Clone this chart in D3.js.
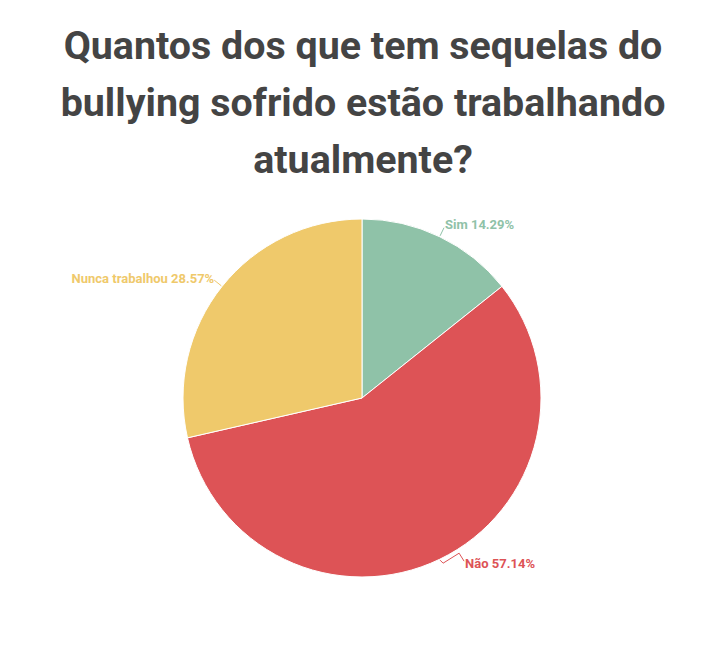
<!DOCTYPE html>
<html>
<head>
<meta charset="utf-8">
<script src="https://cdn.jsdelivr.net/npm/d3@7/dist/d3.min.js"></script>
<style>
html,body{margin:0;padding:0;background:#fff;}
</style>
</head>
<body>
<svg id="chart" width="726" height="668"></svg>
<script>
const titleLines = ["Quantos dos que tem sequelas do", "bullying sofrido estão trabalhando", "atualmente?"];
const categories = ["Sim", "Não", "Nunca trabalhou"];
const values = [1, 4, 2];
const percentLabels = ["14.29%", "57.14%", "28.57%"];
const colors = ["#8fc2a8", "#dd5356", "#efc96b"];

const svg = d3.select("#chart");
const W = 726, H = 668;
svg.append("rect").attr("width", W).attr("height", H).attr("fill", "#fff");

svg.append("g").selectAll("text").data(titleLines).join("text")
  .attr("x", W / 2)
  .attr("y", (d, i) => 59 + i * 57)
  .attr("text-anchor", "middle")
  .attr("font-family", "Roboto, sans-serif")
  .attr("font-weight", 700)
  .attr("font-size", 39.4)
  .attr("fill", "#444444")
  .text(d => d);

const cx = 362, cy = 398, R = 179;
const data = categories.map((c, i) => ({ cat: c, value: values[i], pct: percentLabels[i], color: colors[i] }));
const pie = d3.pie().value(d => d.value).sort(null);
const arcs = pie(data);
const arc = d3.arc().innerRadius(0).outerRadius(R);

const g = svg.append("g").attr("transform", `translate(${cx},${cy})`);
g.selectAll("path").data(arcs).join("path")
  .attr("d", arc)
  .attr("fill", d => d.data.color)
  .attr("stroke", "#fff")
  .attr("stroke-width", 1);

function pt(a, r) { return [Math.sin(a) * r, -Math.cos(a) * r]; }

arcs.forEach((d, i) => {
  const mid = (d.startAngle + d.endAngle) / 2;
  const p0 = pt(mid, R + 1);
  const right = Math.sin(mid) >= 0;
  let pts, tx, ty, anchor;
  if (Math.cos(mid) < 0 && right) {
    const p1 = [p0[0] + 3, p0[1] + 3];
    const p2 = [p1[0] + 16, p1[1] - 10];
    const p3 = [p2[0] + 5, p2[1] + 8];
    pts = [p0, p1, p2, p3];
    tx = p3[0] + 1; ty = p3[1] + 7; anchor = "start";
  } else {
    const p1 = pt(mid, R + 10);
    pts = [p0, p1];
    tx = p1[0] + (right ? 1 : 0);
    ty = p1[1] + (right ? 1 : 3);
    anchor = right ? "start" : "end";
  }
  g.append("polyline")
    .attr("points", pts.map(p => p.join(",")).join(" "))
    .attr("fill", "none")
    .attr("stroke", d.data.color)
    .attr("stroke-width", 1);
  g.append("text")
    .attr("x", tx).attr("y", ty)
    .attr("text-anchor", anchor)
    .attr("font-family", "Roboto, sans-serif")
    .attr("font-weight", 700)
    .attr("font-size", 13)
    .attr("fill", d.data.color)
    .text(d.data.cat + " " + d.data.pct);
});
</script>
</body>
</html>
